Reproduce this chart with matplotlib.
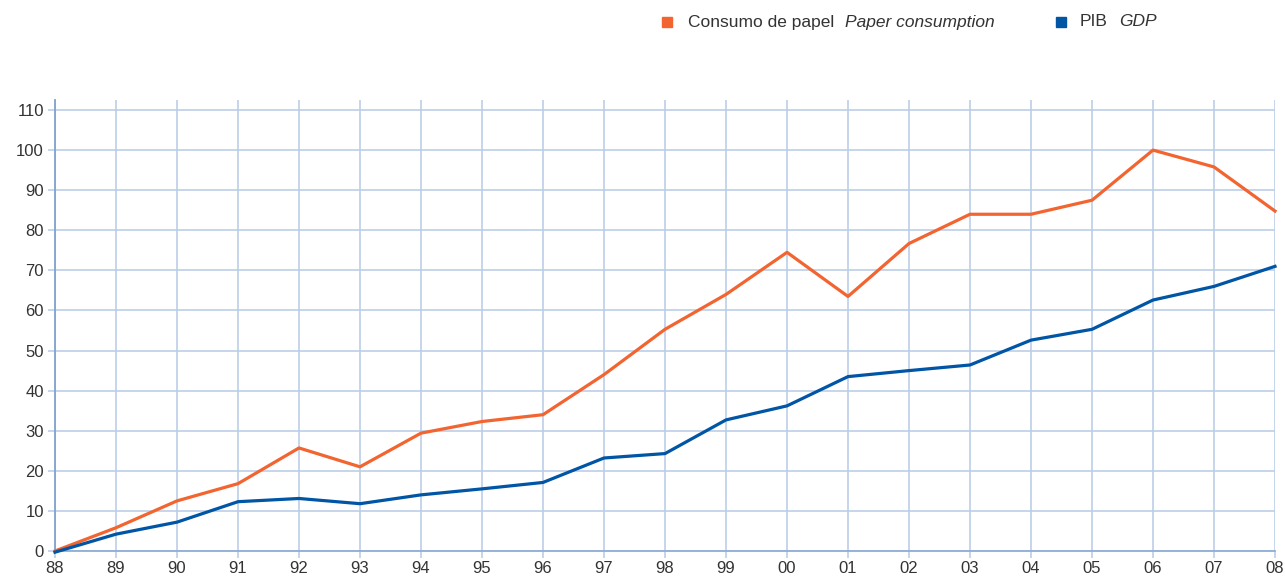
import matplotlib
matplotlib.use('Agg')
import matplotlib.pyplot as plt
from matplotlib.patches import Rectangle

# data
years = ['88', '89', '90', '91', '92', '93', '94', '95', '96', '97', '98',
         '99', '00', '01', '02', '03', '04', '05', '06', '07', '08']
papel = [0, 5.8, 12.5, 16.8, 25.7, 21.0, 29.4, 32.3, 34.0, 44.0, 55.3,
         64.0, 74.5, 63.5, 76.7, 84.0, 84.0, 87.5, 100.0, 95.8, 84.8]
pib = [-0.3, 4.2, 7.2, 12.3, 13.1, 11.8, 14.0, 15.5, 17.1, 23.2, 24.3,
       32.7, 36.2, 43.5, 45.0, 46.4, 52.6, 55.3, 62.6, 66.0, 71.0]
yticks = list(range(0, 111, 10))

orange = '#F26430'
blue = '#0055A5'
grid = '#BCCEE6'
txt = '#333333'

plt.rcParams['font.family'] = ['Liberation Sans', 'DejaVu Sans']

fig = plt.figure(figsize=(12.85, 5.8), dpi=100)
ax = fig.add_axes([55 / 1285, 1 - 551 / 580, 1220 / 1285, 451 / 580])

x = list(range(len(years)))
ax.plot(x, papel, color=orange, lw=2.3, clip_on=False, zorder=3)
ax.plot(x, pib, color=blue, lw=2.3, clip_on=False, zorder=3)

ax.set_xlim(0, len(years) - 1)
ax.set_ylim(0, 112.5)
ax.set_xticks(x)
ax.set_xticklabels(years)
ax.set_yticks(yticks)
ax.grid(True, color=grid, lw=1.2, zorder=0)
ax.set_axisbelow(True)

for s in ['top', 'right']:
    ax.spines[s].set_visible(False)
ax.spines['left'].set_color('#7FA3CF')
ax.spines['bottom'].set_color('#8FAED4')
ax.spines['left'].set_linewidth(1.3)
ax.spines['bottom'].set_linewidth(1.3)
ax.tick_params(axis='both', colors=grid, labelcolor=txt, labelsize=12, length=5, width=1.2)
ax.tick_params(axis='x', pad=2)
ax.tick_params(axis='y', pad=3)

# legend drawn by hand along the top
fs = 12.5
fig.add_artist(Rectangle((662 / 1285, 1 - 27 / 580), 10 / 1285, 10 / 580,
                         transform=fig.transFigure, color=orange))
fig.text(688 / 1285, 1 - 22 / 580, 'Consumo de papel', fontsize=fs, color=txt, va='center')
fig.text(845 / 1285, 1 - 22 / 580, 'Paper consumption', fontsize=fs, color=txt,
         va='center', style='italic')
fig.add_artist(Rectangle((1056 / 1285, 1 - 27 / 580), 10 / 1285, 10 / 580,
                         transform=fig.transFigure, color=blue))
fig.text(1080 / 1285, 1 - 22 / 580, 'PIB', fontsize=fs, color=txt, va='center')
fig.text(1119 / 1285, 1 - 22 / 580, 'GDP', fontsize=fs, color=txt, va='center', style='italic')

fig.savefig('out.png', dpi=100)
plt.close(fig)
